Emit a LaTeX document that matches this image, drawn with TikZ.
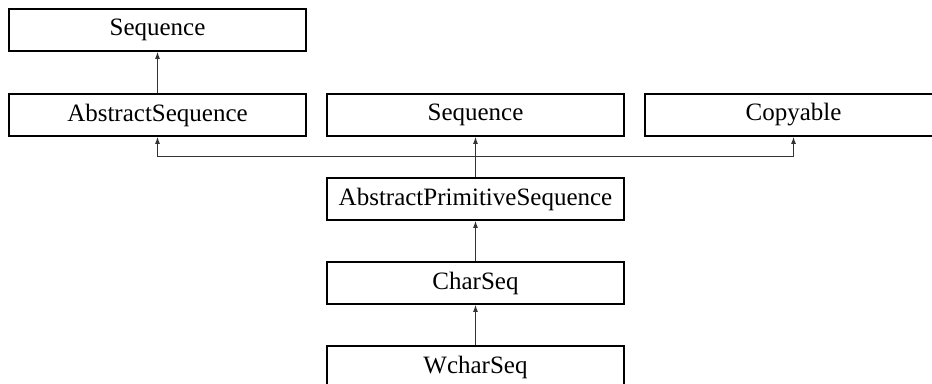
\documentclass[tikz,border=0pt]{standalone}
\usepackage{fontspec}
\setmainfont{Liberation Serif}
\usetikzlibrary{arrows.meta,positioning,calc}

\begin{document}
\begin{tikzpicture}[x=1pt,y=-1pt,>={Latex[length=7pt,width=5pt]},
 cls/.style={draw,line width=1.8pt,minimum width=297pt,minimum height=42pt,inner sep=0pt,font=\fontsize{25}{30}\selectfont},
 inh/.style={->,line width=0.9pt,draw=black!80}]
\useasboundingbox (0,0) rectangle (932,383);
\clip (0,0) rectangle (932,383);
\node[cls] (seqtop) at (157.5,30) {Sequence};
\node[cls] (abs) at (157.5,115) {AbstractSequence};
\node[cls] (seqmid) at (475.5,115) {Sequence};
\node[cls] (copy) at (793.5,115) {Copyable};
\node[cls] (aps) at (475.5,199) {AbstractPrimitiveSequence};
\node[cls] (chr) at (475.5,283) {CharSeq};
\node[cls] (wchr) at (475.5,367) {WcharSeq};
\coordinate (jn) at (475.5,156);
\draw[inh] (abs) -- (seqtop);
\draw[inh] (aps) -- (seqmid);
\draw[inh] (jn) -| (abs.south);
\draw[inh] (jn) -| (copy.south);
\draw[inh] (chr) -- (aps);
\draw[inh] (wchr) -- (chr);
\end{tikzpicture}
\end{document}
